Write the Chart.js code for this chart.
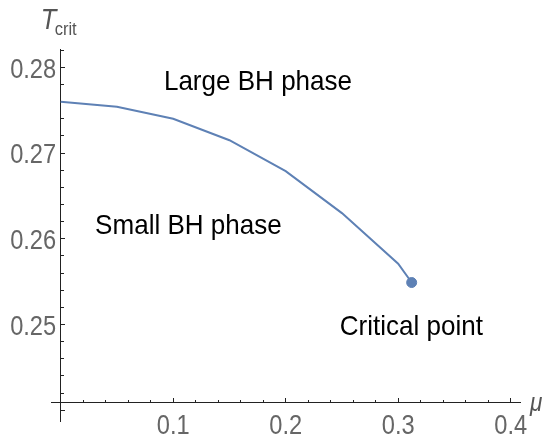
<!DOCTYPE html>
<html>
<head>
<meta charset="utf-8">
<script src="https://cdn.jsdelivr.net/npm/chart.js@4.4.1/dist/chart.umd.min.js"></script>
<style>
  html, body { margin: 0; padding: 0; background: #fff; }
  #wrap { width: 547px; height: 437px; position: relative; }
</style>
</head>
<body>
<div id="wrap"><canvas id="c"></canvas></div>
<script>
// ---- data ----
const muValues    = [0.0, 0.05, 0.10, 0.15, 0.20, 0.25, 0.30, 0.312];
const tcritValues = [0.2760, 0.2754, 0.2740, 0.2715, 0.2679, 0.2630, 0.2571, 0.2549];
const criticalMu  = [0.312];
const criticalT   = [0.2549];
const xTickValues = [0.1, 0.2, 0.3, 0.4];
const yTickValues = [0.25, 0.26, 0.27, 0.28];
const xTickLabels = ['0.1', '0.2', '0.3', '0.4'];
const yTickLabels = ['0.25', '0.26', '0.27', '0.28'];
const annotationTexts = ['Large BH phase', 'Small BH phase', 'Critical point'];
const annotationMu    = [0.1754, 0.1136, 0.3118];
const annotationT     = [0.27735, 0.26054, 0.24875];

// axis ranges / crossing point
const xMin = -0.0086, xMax = 0.4083;
const yMin = 0.23875, yMax = 0.28214;
const xAxisAtT = 0.2409;

const lineColor = '#5E81B5';
const axisColor = '#222222';
const labelGray = '#666666';
const FAM = '"Liberation Sans", Arial, sans-serif';

const lineData = muValues.map((m, i) => ({x: m, y: tcritValues[i]}));
const critData = criticalMu.map((m, i) => ({x: m, y: criticalT[i]}));

function condensedText(ctx, text, x, y, font, sx, align) {
  ctx.save();
  ctx.font = font;
  ctx.textAlign = align;
  ctx.textBaseline = 'alphabetic';
  ctx.translate(x, y);
  ctx.scale(sx, 1);
  ctx.fillText(text, 0, 0);
  ctx.restore();
}

const textPlugin = {
  id: 'texts',
  afterDraw(chart) {
    const ctx = chart.ctx;
    const xs = chart.scales.x, ys = chart.scales.y;
    const x0 = xs.getPixelForValue(0);
    const yAx = ys.getPixelForValue(xAxisAtT);
    ctx.save();
    // region annotations
    ctx.fillStyle = '#000';
    annotationTexts.forEach((t, i) => {
      condensedText(ctx, t, xs.getPixelForValue(annotationMu[i]), ys.getPixelForValue(annotationT[i]),
        '28px ' + FAM, 0.93, 'center');
    });
    // tick labels
    ctx.fillStyle = labelGray;
    yTickValues.forEach((v, i) => {
      condensedText(ctx, yTickLabels[i], x0 - 4.5, ys.getPixelForValue(v) + 10.2, '28.5px ' + FAM, 0.83, 'right');
    });
    xTickValues.forEach((v, i) => {
      condensedText(ctx, xTickLabels[i], xs.getPixelForValue(v), yAx + 31, '28.5px ' + FAM, 0.83, 'center');
    });
    // axis labels
    ctx.fillStyle = '#555';
    condensedText(ctx, 'T', x0 - 20, chart.chartArea.top - 20, 'italic 30px ' + FAM, 0.85, 'left');
    condensedText(ctx, 'crit', x0 - 6, chart.chartArea.top - 14, '19px ' + FAM, 0.87, 'left');
    condensedText(ctx, '\u03BC', chart.chartArea.right + 10, yAx + 8, 'italic 25px ' + FAM, 0.9, 'left');
    ctx.restore();
  }
};

new Chart(document.getElementById('c'), {
  type: 'scatter',
  data: {
    datasets: [
      {
        data: lineData,
        showLine: true,
        borderColor: lineColor,
        borderWidth: 2,
        pointRadius: 0,
        tension: 0,
        xAxisID: 'x', yAxisID: 'y'
      },
      {
        data: critData,
        showLine: false,
        backgroundColor: lineColor,
        borderColor: lineColor,
        pointRadius: 5,
        xAxisID: 'x', yAxisID: 'y'
      }
    ]
  },
  options: {
    responsive: true,
    maintainAspectRatio: false,
    animation: false,
    layout: { padding: { left: 51, right: 27, top: 49, bottom: 16 } },
    plugins: { legend: { display: false }, tooltip: { enabled: false } },
    scales: {
      x: {
        type: 'linear', min: xMin, max: xMax,
        position: { y: xAxisAtT },
        border: { display: true, color: axisColor, width: 1 },
        grid: { drawOnChartArea: false, drawTicks: true, tickLength: -5, tickColor: axisColor },
        afterBuildTicks: (s) => { s.ticks = [0].concat(xTickValues).map(v => ({value: v})); },
        ticks: { display: false, autoSkip: false }
      },
      xm: {
        type: 'linear', axis: 'x', min: xMin, max: xMax,
        position: { y: xAxisAtT },
        border: { display: false },
        grid: { drawOnChartArea: false, drawTicks: true, tickLength: -3, tickColor: axisColor },
        ticks: { stepSize: 0.02, includeBounds: false, autoSkip: false, display: false }
      },
      y: {
        type: 'linear', min: yMin, max: yMax,
        position: { x: 0 },
        border: { display: true, color: axisColor, width: 1 },
        grid: { drawOnChartArea: false, drawTicks: true, tickLength: -5, tickColor: axisColor },
        afterBuildTicks: (s) => { s.ticks = [0.24].concat(yTickValues).map(v => ({value: v})); },
        ticks: { display: false, autoSkip: false }
      },
      ym: {
        type: 'linear', axis: 'y', min: yMin, max: yMax,
        position: { x: 0 },
        border: { display: false },
        grid: { drawOnChartArea: false, drawTicks: true, tickLength: -3, tickColor: axisColor },
        ticks: { stepSize: 0.002, includeBounds: false, autoSkip: false, display: false }
      }
    }
  },
  plugins: [textPlugin]
});
</script>
</body>
</html>
